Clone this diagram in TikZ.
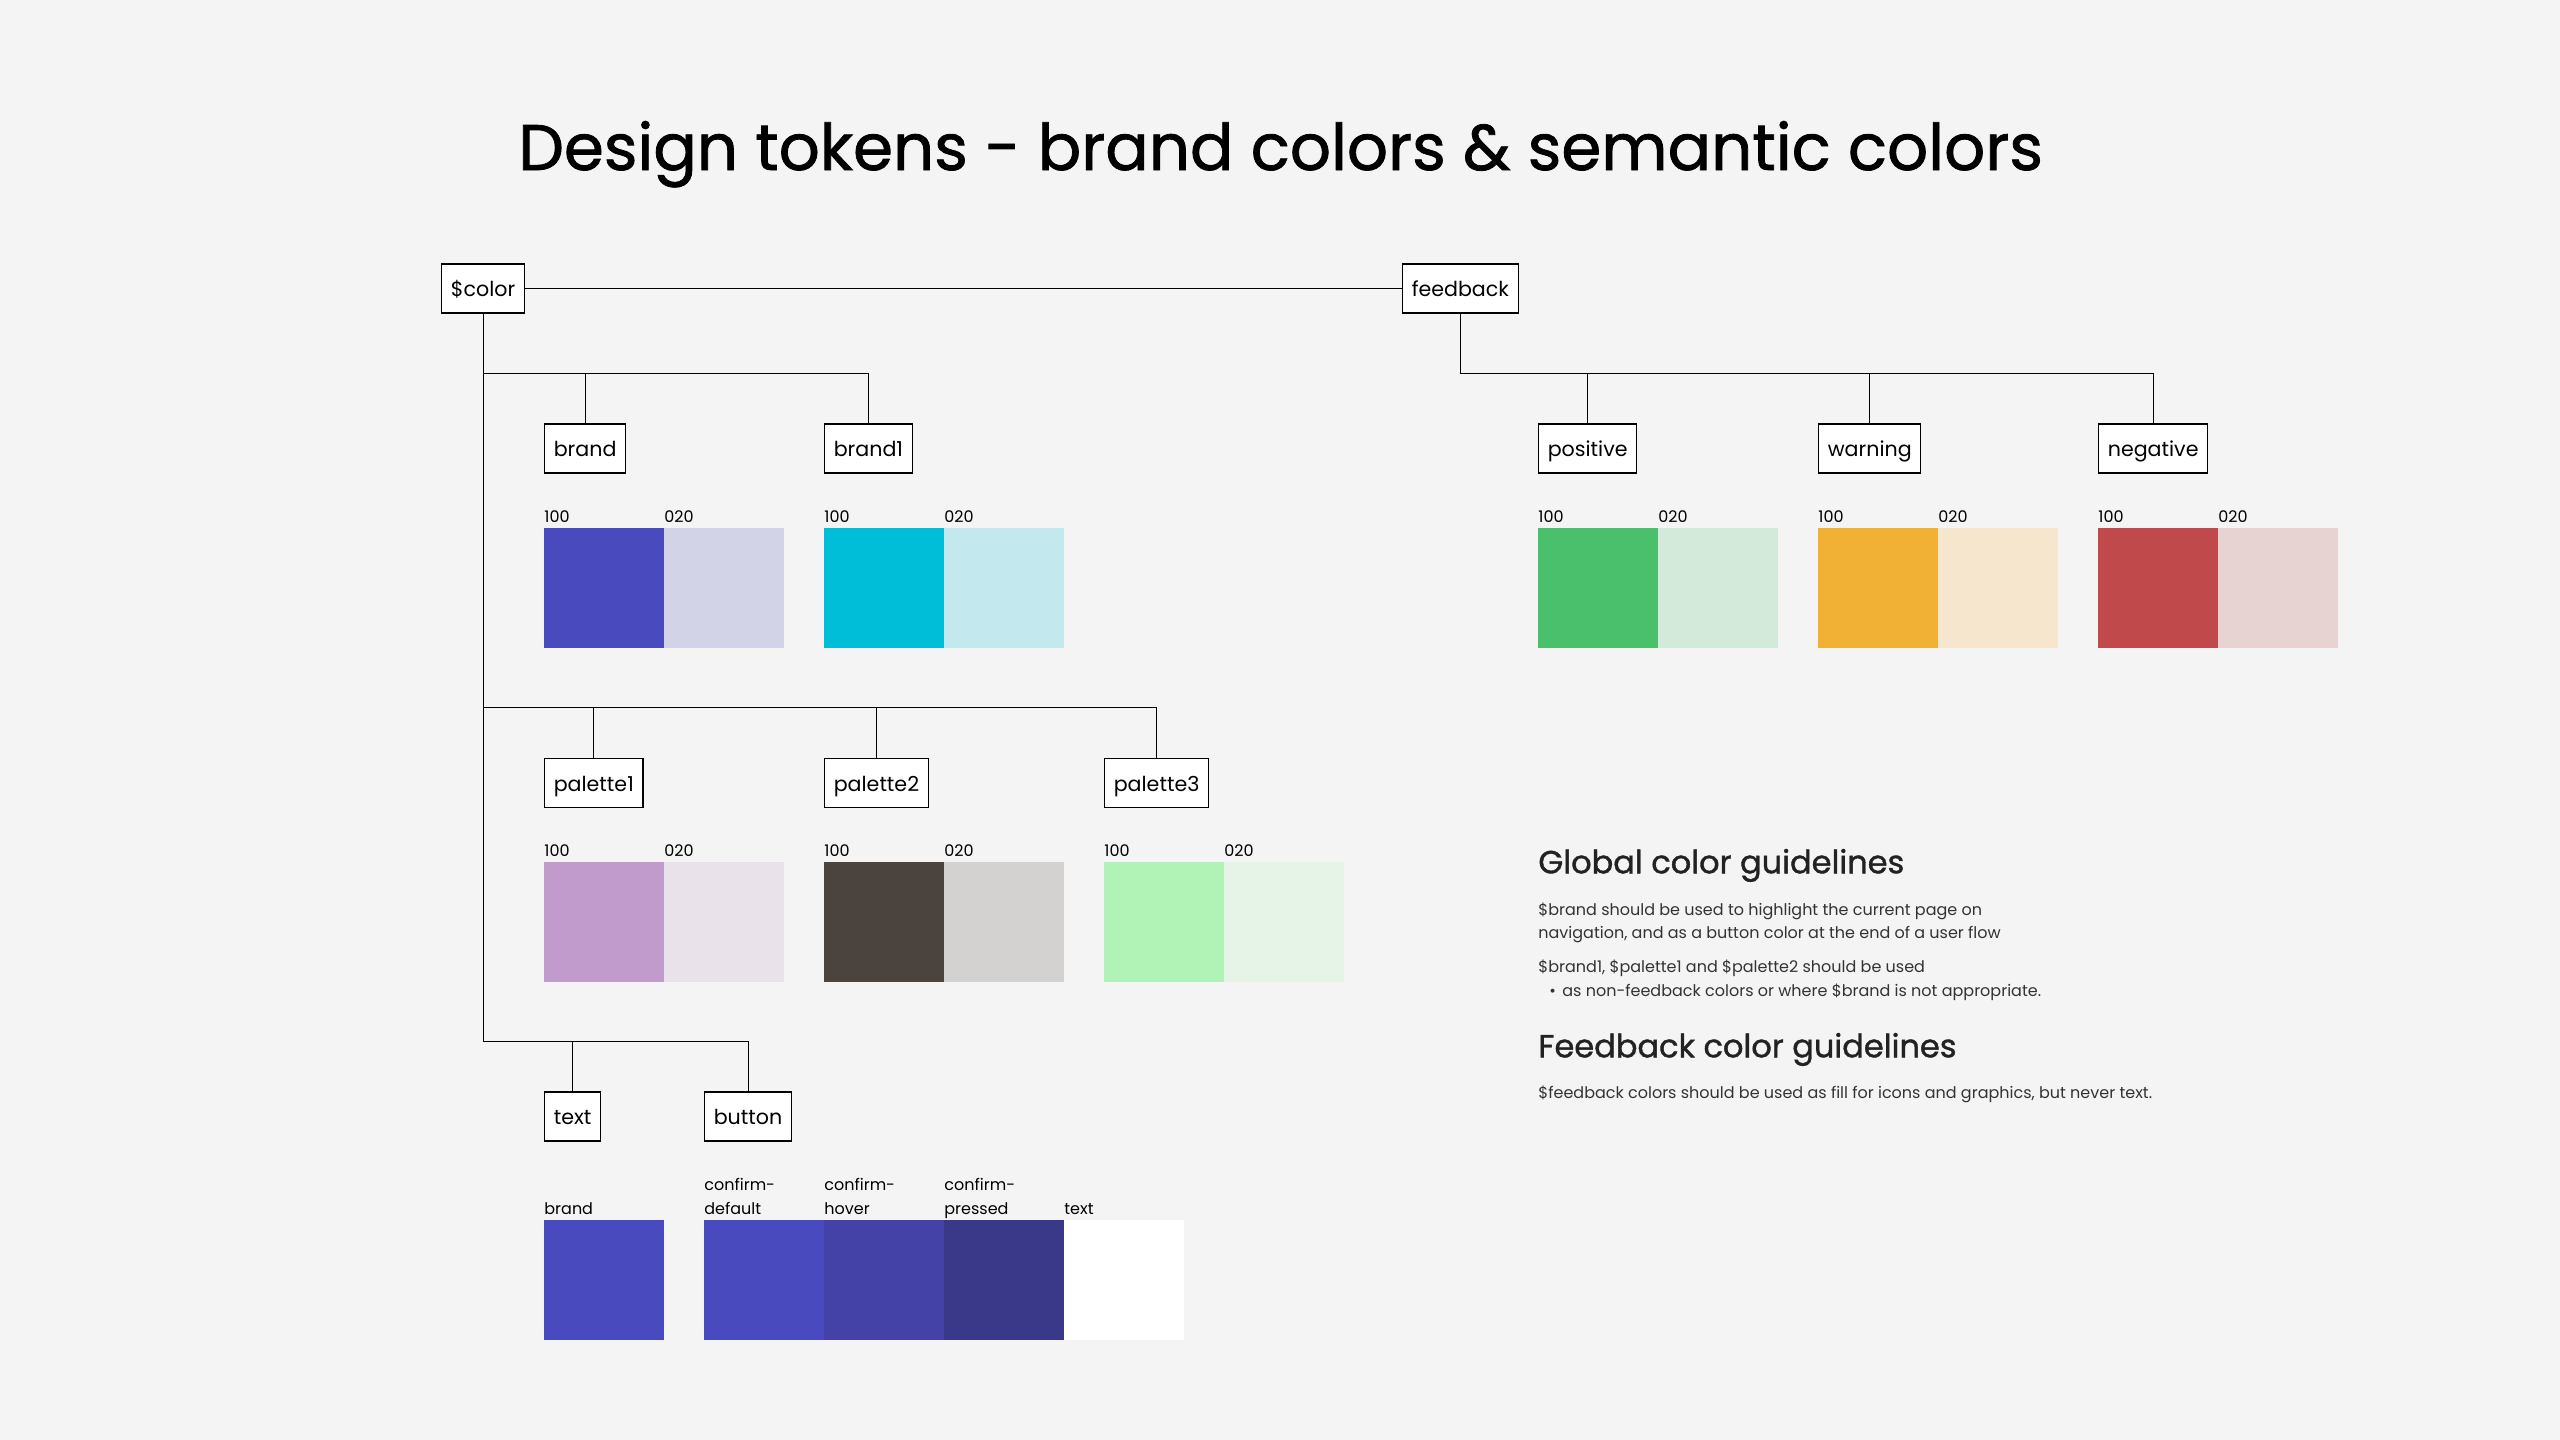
\documentclass[tikz,border=0pt]{standalone}
\usepackage{fontspec}
\setmainfont{Poppins}
% slightly heavier cut for the title and the section headings
\newfontfamily\heavyfont[FakeBold=1.2]{Poppins}

% canvas and token colours
\definecolor{canvas}{HTML}{F4F4F4}
\definecolor{brandHi}{HTML}{4A4ABF}
\definecolor{brandLo}{HTML}{D3D3E8}
\definecolor{brandoneHi}{HTML}{00BED8}
\definecolor{brandoneLo}{HTML}{C3E8ED}
\definecolor{palAHi}{HTML}{C09BCB}
\definecolor{palALo}{HTML}{EAE2EB}
\definecolor{palBHi}{HTML}{4B433E}
\definecolor{palBLo}{HTML}{D3D2D0}
\definecolor{palCHi}{HTML}{B1F2B6}
\definecolor{palCLo}{HTML}{E6F4E7}
\definecolor{posHi}{HTML}{4BC06C}
\definecolor{posLo}{HTML}{D3EADA}
\definecolor{warnHi}{HTML}{F0B135}
\definecolor{warnLo}{HTML}{F5E6CD}
\definecolor{negHi}{HTML}{C04A4B}
\definecolor{negLo}{HTML}{E8D3D3}
\definecolor{btnHover}{HTML}{4442A6}
\definecolor{btnPressed}{HTML}{3A3888}
\definecolor{headInk}{HTML}{222222}
\definecolor{bodyInk}{HTML}{333333}

% a pair of swatches (100 / 020) with their labels
% #1 name, #2 left x, #3 top y, #4 strong colour, #5 light colour
\newcommand\tokpair[5]{%
  \fill[#4] (#2,#3) rectangle ++(120,120);
  \fill[#5] (#2+120,#3) rectangle ++(120,120);
  \node[swl] (#1-hi) at (#2,#3-6) {100};
  \node[swl] (#1-lo) at (#2+120,#3-6) {020};
}

\begin{document}
\begin{tikzpicture}[x=0.5pt,y=-0.5pt,
  tok/.style={draw=black, line width=0.6pt, fill=white, anchor=west,
    inner xsep=4.6pt, inner ysep=0pt, minimum height=24.5pt,
    text height=8.2pt, text depth=0pt,
    font=\fontsize{10.3}{12}\selectfont},
  wire/.style={draw=black, line width=0.5pt},
  swl/.style={anchor=base west, inner sep=0pt, font=\fontsize{8}{9.6}\selectfont},
  headline/.style={anchor=base west, inner sep=0pt, text=headInk,
    font=\heavyfont\fontsize{16}{19}\selectfont},
  bodyline/.style={anchor=base west, inner sep=0pt, text=bodyInk,
    font=\fontsize{8}{10}\selectfont}]

\fill[canvas] (0,0) rectangle (2560,1440);
\useasboundingbox (0,0) rectangle (2560,1440);

% title
\node[anchor=base west, inner sep=0pt, font=\heavyfont\fontsize{32.2}{38}\selectfont]
  (title) at (518,170) {Design tokens - brand colors \& semantic colors};

% token tree nodes
\node[tok] (color) at (441,288.5) {\$color};
\node[tok] (feedback) at (1402,288.5) {feedback};
\node[tok] (brand) at (544,448.5) {brand};
\node[tok] (brandone) at (824,448.5) {brand1};
\node[tok] (paletteone) at (544,783) {palette1};
\node[tok] (palettetwo) at (824,783) {palette2};
\node[tok] (palettethree) at (1104,783) {palette3};
\node[tok] (text) at (544,1116.5) {text};
\node[tok] (button) at (704,1116.5) {button};
\node[tok] (positive) at (1538,448.5) {positive};
\node[tok] (warning) at (1818,448.5) {warning};
\node[tok] (negative) at (2098,448.5) {negative};

% bus rows of the tree
\coordinate (rowA) at (0,373);
\coordinate (rowB) at (0,707);
\coordinate (rowC) at (0,1041);

% connectors
\draw[wire] (color.east) -- (feedback.west);
\draw[wire] (color.south) -- (color.south |- rowC) -| (button.north);
\draw[wire] (color.south |- rowC) -| (text.north);
\draw[wire] (color.south |- rowA) -| (brandone.north);
\draw[wire] (color.south |- rowA) -| (brand.north);
\draw[wire] (color.south |- rowB) -| (palettethree.north);
\draw[wire] (color.south |- rowB) -| (palettetwo.north);
\draw[wire] (color.south |- rowB) -| (paletteone.north);
\draw[wire] (feedback.south) |- (negative.north |- rowA) -- (negative.north);
\draw[wire] (feedback.south |- rowA) -| (positive.north);
\draw[wire] (feedback.south |- rowA) -| (warning.north);

% swatches
\tokpair{sbrand}{544}{528}{brandHi}{brandLo}
\tokpair{sbrandone}{824}{528}{brandoneHi}{brandoneLo}
\tokpair{spalA}{544}{862}{palAHi}{palALo}
\tokpair{spalB}{824}{862}{palBHi}{palBLo}
\tokpair{spalC}{1104}{862}{palCHi}{palCLo}
\tokpair{spos}{1538}{528}{posHi}{posLo}
\tokpair{swarn}{1818}{528}{warnHi}{warnLo}
\tokpair{sneg}{2098}{528}{negHi}{negLo}

% text and button swatches
\fill[brandHi] (544,1220) rectangle ++(120,120);
\fill[brandHi] (704,1220) rectangle ++(120,120);
\fill[btnHover] (824,1220) rectangle ++(120,120);
\fill[btnPressed] (944,1220) rectangle ++(120,120);
\fill[white] (1064,1220) rectangle ++(120,120);
\node[swl] (ltextbrand) at (544,1214) {brand};
\node[swl] (lcdA) at (704,1190.7) {confirm-};
\node[swl] (lcdB) at (704,1214) {default};
\node[swl] (lchA) at (824,1190.7) {confirm-};
\node[swl] (lchB) at (824,1214) {hover};
\node[swl] (lcpA) at (944,1190.7) {confirm-};
\node[swl] (lcpB) at (944,1214) {pressed};
\node[swl] (lbtext) at (1064,1214) {text};

% guidelines
\node[headline] (globalhead) at (1538,873.3) {Global color guidelines};
\node[bodyline] (gA) at (1538,915) {\$brand should be used to highlight the current page on};
\node[bodyline] (gB) at (1538,938.3) {navigation, and as a button color at the end of a user flow};
\node[bodyline] (gC) at (1538,972.3) {\$brand1, \$palette1 and \$palette2 should be used};
\node[bodyline] (gbullet) at (1549,996) {•};
\node[bodyline] (gD) at (1562,996) {as non-feedback colors or where \$brand is not appropriate.};
\node[headline] (feedhead) at (1538,1057.3) {Feedback color guidelines};
\node[bodyline] (fA) at (1538,1098.3) {\$feedback colors should be used as fill for icons and graphics, but never text.};

\end{tikzpicture}
\end{document}
